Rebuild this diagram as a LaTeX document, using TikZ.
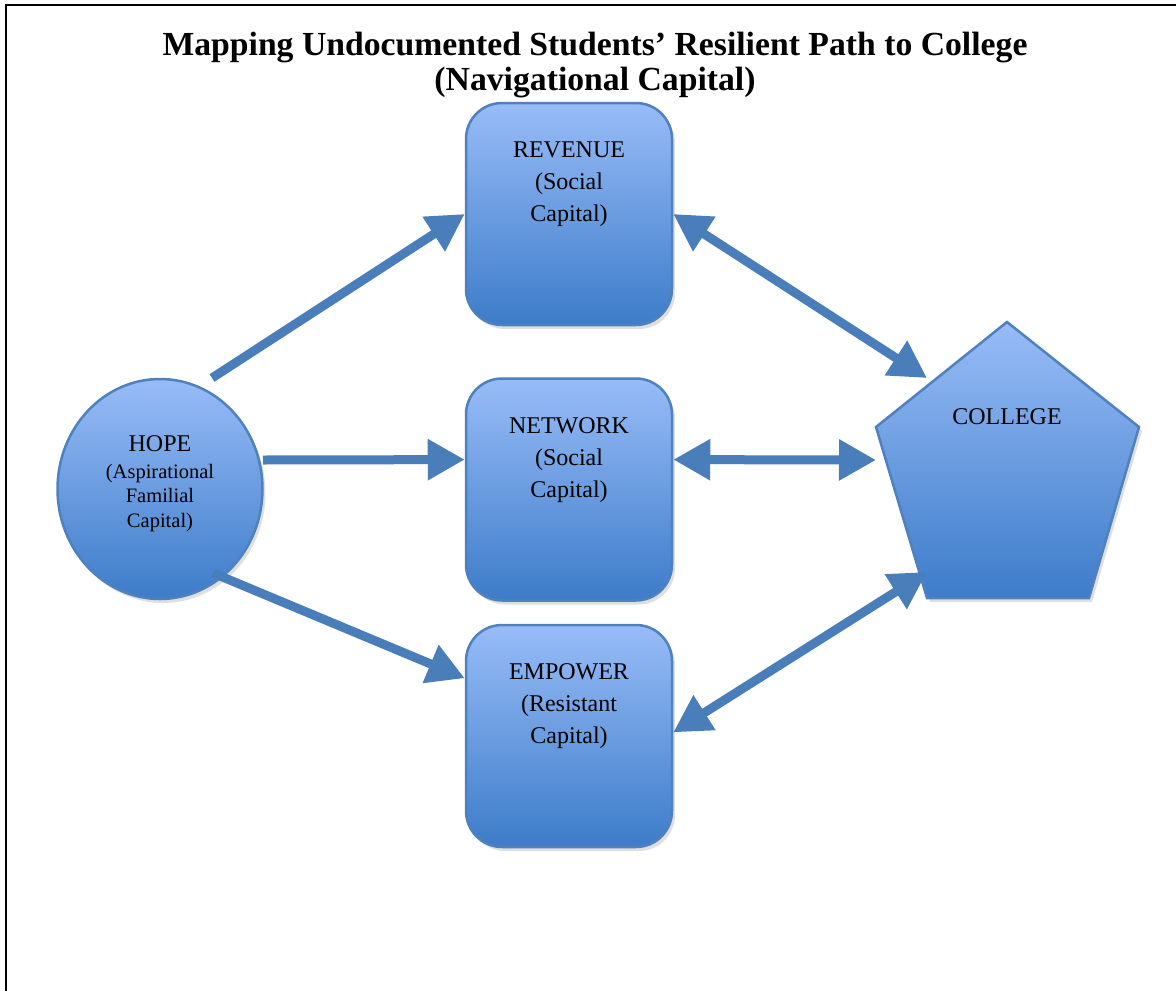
\documentclass[tikz,border=0pt]{standalone}
\usepackage{fontspec}
\setmainfont{Liberation Serif}
\usetikzlibrary{arrows.meta,shadows,shapes.geometric}

\definecolor{linkblue}{HTML}{4A7EBB}
\definecolor{filltop}{HTML}{98BCF7}
\definecolor{fillbot}{HTML}{3D7CC9}
\definecolor{edgeblue}{HTML}{4F81BD}

\begin{document}
\begin{tikzpicture}[x=1pt,y=-1pt,
  shapebox/.style={draw=edgeblue, line width=2.5pt, top color=filltop, bottom color=fillbot,
    drop shadow={opacity=0.25, shadow xshift=3pt, shadow yshift=-4pt}},
  capbox/.style={shapebox, rectangle, rounded corners=36pt, minimum width=206pt,
    minimum height=222pt, inner sep=0pt},
  link/.style={draw=linkblue, line width=9pt, -{Triangle[length=37pt,width=39pt]}},
  twoway/.style={draw=linkblue, line width=9pt,
    {Triangle[length=37pt,width=39pt]}-{Triangle[length=37pt,width=39pt]}},
  boxtext/.style={font=\fontsize{24}{32}\selectfont, align=center, anchor=base, inner sep=0pt},
  subtext/.style={font=\fontsize{20.5}{24.5}\selectfont, align=center, anchor=base, inner sep=0pt}
]
\useasboundingbox (0,0) rectangle (1176,991);
\fill[white] (0,0) rectangle (1176,991);

% page frame (top and left edges)
\draw[line width=2pt, line join=miter] (6,991) -- (6,5) -- (1176,5);

% title (anchored on the baseline of its last line)
\node[font=\fontsize{33.7}{35}\bfseries\selectfont, align=center, anchor=base, inner sep=0pt]
  (title) at (595,90) {Mapping Undocumented Students’ Resilient Path to College\\(Navigational Capital)};

% shapes
\node[shapebox, ellipse, minimum width=205pt, minimum height=220pt, inner sep=0pt] (hope) at (160,489) {};
\node[capbox] (rev) at (569,214) {};
\node[capbox] (net) at (569,489.5) {};
\node[capbox] (emp) at (569,736) {};

\coordinate (pTop) at (1007,322);
\coordinate (pR) at (1139,427);
\coordinate (pBR) at (1089,598);
\coordinate (pBL) at (927,598);
\coordinate (pL) at (876,427);
\path[shapebox, line join=miter] (pTop) -- (pR) -- (pBR) -- (pBL) -- (pL) -- cycle;

% labels (multi-line labels sit on the baseline of their last line)
\node[boxtext] (hopetxt) at (160,451) {HOPE};
\node[subtext] (hopesub) at (160,527) {(Aspirational\\Familial\\Capital)};
\node[boxtext] (revtxt) at (569,221) {REVENUE\\(Social\\Capital)};
\node[boxtext] (nettxt) at (569,497) {NETWORK\\(Social\\Capital)};
\node[boxtext] (emptxt) at (569,743) {EMPOWER\\(Resistant\\Capital)};
\node[boxtext] (college) at (1007,424) {COLLEGE};

% connector ends on the circle and the pentagon
\coordinate (hopeNE) at (212,378);
\coordinate (hopeE) at (263,460);
\coordinate (hopeSE) at (213,573);
\coordinate (colNW) at (927,378);
\coordinate (colW) at (876,460);
\coordinate (colSW) at (927,572);

% connectors
\draw[link] (hopeNE) -- (rev.west);
\draw[link] (hopeE) -- (net.164);
\draw[link] (hopeSE) -- (emp.151);
\draw[twoway] (rev.east) -- (colNW);
\draw[twoway] (net.16) -- (colW);
\draw[twoway] (emp.2) -- (colSW);
\end{tikzpicture}
\end{document}
